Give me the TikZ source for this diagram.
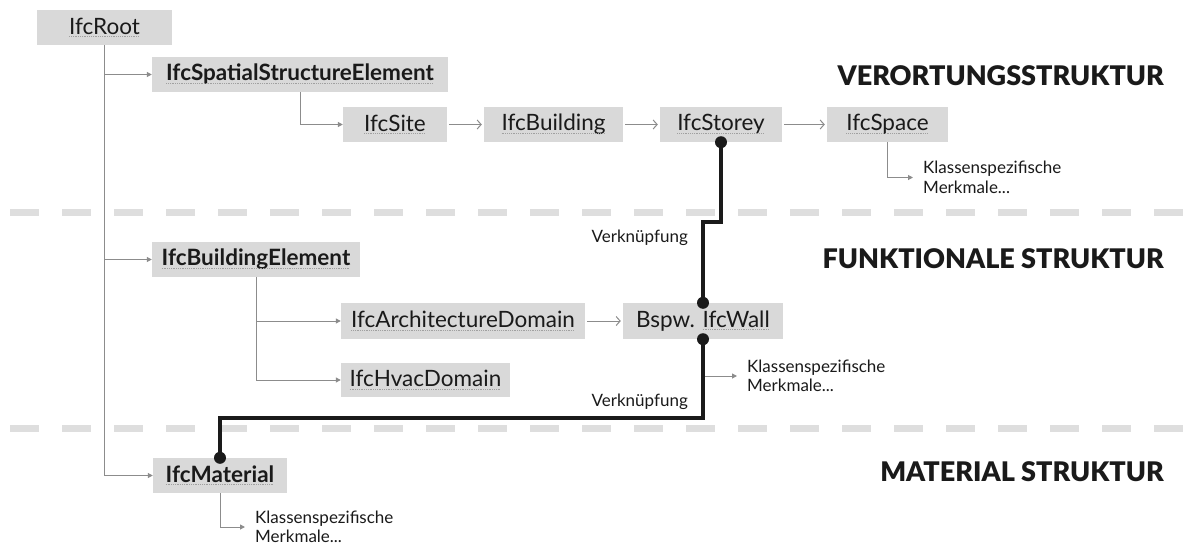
\documentclass[tikz,border=0pt]{standalone}
\usepackage{fontspec}
\setmainfont{Lato}
\newfontfamily\heavyfont{Lato Black}
\usetikzlibrary{arrows.meta}
\definecolor{boxgray}{HTML}{D9D9D9}
\definecolor{linegray}{HTML}{8C8C8C}
\definecolor{dashgray}{HTML}{DEDEDE}
\definecolor{ink}{HTML}{1A1A1A}
\definecolor{sqgray}{HTML}{A0A0A0}
\newsavebox\sqbox
\newcommand\squig[1]{\sbox\sqbox{#1}\leavevmode\rlap{\usebox\sqbox}\textcolor{sqgray}{\lower2.8pt\hbox to \wd\sqbox{\xleaders\hbox{\rule{1pt}{0.8pt}\kern0.8pt}\hfill}}}
\tikzset{
  box/.style={fill=boxgray, draw=none, minimum height=35pt, inner sep=0pt, text=ink, font=\fontsize{22.5}{26}\selectfont},
  boldbox/.style={box, font=\fontsize{22.5}{26}\selectfont\bfseries},
  conn/.style={draw=linegray, line width=1pt, -{Triangle[length=5pt,width=5pt]}},
  chain/.style={draw=linegray, line width=1pt, -{Straight Barb[length=4pt,width=9pt]}, shorten <=2pt, shorten >=2pt},
  link/.style={draw=ink, line width=3.5pt},
  sep/.style={draw=dashgray, line width=7pt, dash pattern=on 29pt off 23pt},
  title/.style={font=\fontsize{27}{31}\selectfont\heavyfont, text=ink, anchor=east, inner sep=0pt},
  note/.style={font=\fontsize{17}{19.5}\selectfont, text=ink, align=left, anchor=west, inner sep=0pt},
  lbl/.style={font=\fontsize{17}{20}\selectfont, text=ink, anchor=east, inner sep=0pt}
}
\begin{document}
\begin{tikzpicture}[x=1pt,y=-1pt]
\fill[white] (0,0) rectangle (1183,546);
\useasboundingbox (0,0) rectangle (1183,546);
% separators
\draw[sep] (10,212) -- (1183,212);
\draw[sep] (10,428) -- (1183,428);
% boxes
\node[box, minimum width=135pt] (root) at (104.5,27.5) {\squig{IfcRoot}};
\node[boldbox, minimum width=296pt] (sse) at (300,74.5) {\squig{IfcSpatialStructureElement}};
\node[box, minimum width=104pt] (site) at (395,124.5) {\squig{IfcSite}};
\node[box, minimum width=139pt] (bldg) at (553.5,124.5) {\squig{IfcBuilding}};
\node[box, minimum width=122pt] (storey) at (721,124.5) {\squig{IfcStorey}};
\node[box, minimum width=121pt] (space) at (887.5,124.5) {\squig{IfcSpace}};
\node[boldbox, minimum width=208pt] (be) at (256,259.5) {\squig{IfcBuildingElement}};
\node[box, minimum width=244pt, minimum height=36pt] (arch) at (463,321) {\squig{IfcArchitectureDomain}};
\node[box, minimum width=169pt, minimum height=34pt] (hvac) at (425.5,380) {\squig{IfcHvacDomain}};
\node[box, minimum width=160pt, minimum height=36pt] (wall) at (703,321) {Bspw. \squig{IfcWall}};
\node[boldbox, minimum width=134pt] (mat) at (220,475.5) {\squig{IfcMaterial}};
% titles
\node[title] (t1) at (1164,76) {VERORTUNGSSTRUKTUR};
\node[title] (t2) at (1164,259) {FUNKTIONALE STRUKTUR};
\node[title] (t3) at (1164,472) {MATERIAL STRUKTUR};
% notes
\node[note] (spnote) at (923,177.5) {Klassenspezifische\\Merkmale...};
\node[note] (wnote) at (747,376) {Klassenspezifische\\Merkmale...};
\node[note] (mnote) at (255,527) {Klassenspezifische\\Merkmale...};
\node[lbl] (v1) at (688,238) {Verknüpfung};
\node[lbl] (v2) at (688,402) {Verknüpfung};
% hierarchy connectors
\draw[conn] (root.south) |- (mat.west);
\draw[conn] (root.south |- sse.west) -- (sse.west);
\draw[conn] (root.south |- be.west) -- (be.west);
\draw[conn] (sse.south) |- (site.west);
\draw[conn] (be.south) |- (hvac.west);
\draw[conn] (be.south |- arch.west) -- (arch.west);
\draw[conn, shorten >=10pt] (space.south) |- (spnote.west);
\draw[conn, shorten >=10pt] (mat.south) |- (mnote.west);
\draw[conn, shorten >=10pt] (wall.south |- wnote.west) -- (wnote.west);
% chain
\draw[chain] (site.east) -- (bldg.west);
\draw[chain] (bldg.east) -- (storey.west);
\draw[chain] (storey.east) -- (space.west);
\draw[chain] (arch.east) -- (wall.west);
% links
\draw[link] (storey.south) -- ++(0,80) -| (wall.north);
\draw[link] (wall.south) -- ++(0,79) -| (mat.north);
\fill[ink] (storey.south) circle (6pt);
\fill[ink] (wall.north) circle (6pt);
\fill[ink] (wall.south) circle (6pt);
\fill[ink] (mat.north) circle (6pt);
\end{tikzpicture}
\end{document}
